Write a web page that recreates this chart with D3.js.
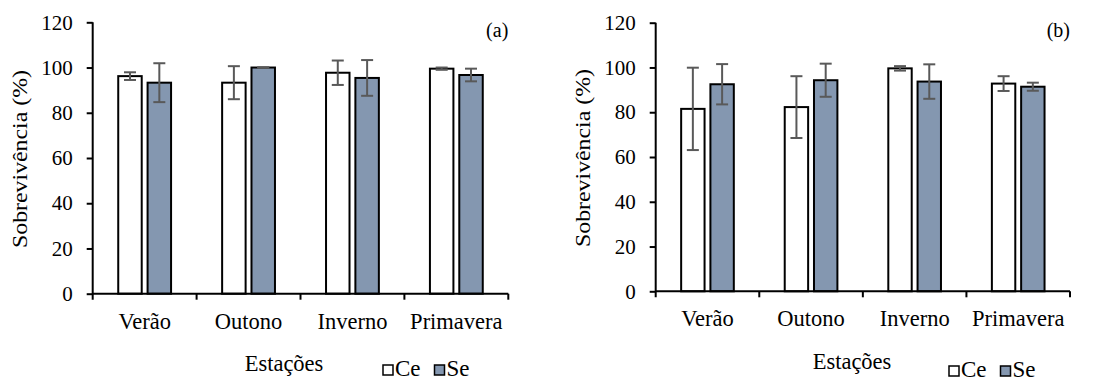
<html>
<head>
<meta charset="utf-8">
<script src="https://d3js.org/d3.v7.min.js"></script>
<style>
body { margin: 0; background: #fff; }
</style>
</head>
<body>
<script>
// data
var categories = ["Verão", "Outono", "Inverno", "Primavera"];
var seriesNames = ["Ce", "Se"];
var seriesColors = ["#ffffff", "#8497b0"];
var yTicks = [0, 20, 40, 60, 80, 100, 120];

// panel (a)
var ceA = [96.2, 93.3, 97.7, 99.5];
var ceAErr = [1.7, 7.3, 5.4, 0.5];
var seA = [93.3, 100, 95.4, 96.7];
var seAErr = [8.6, 0.1, 7.9, 2.8];

// panel (b)
var ceB = [81.5, 82.3, 99.6, 92.8];
var ceBErr = [18.4, 13.8, 1.0, 3.3];
var seB = [92.5, 94.3, 93.7, 91.4];
var seBErr = [9.0, 7.4, 7.7, 1.8];

var FONT = "Liberation Serif";

var svg = d3.select("body").append("svg")
    .attr("width", 1104)
    .attr("height", 381)
    .attr("font-family", FONT);

function panel(opts) {
  var g = svg.append("g");

  var x = d3.scaleBand()
      .domain(categories)
      .range([opts.left, opts.right])
      .padding(0);

  var x1 = d3.scaleBand()
      .domain(seriesNames)
      .range([0, x.bandwidth()])
      .paddingInner(0.2)
      .paddingOuter(0.87);

  var y = d3.scaleLinear()
      .domain([0, 120])
      .range([opts.bottom, opts.top]);

  // y axis
  var yAxis = g.append("g")
      .attr("transform", "translate(" + opts.left + ",0)")
      .call(d3.axisLeft(y).tickValues(yTicks).tickSize(6).tickPadding(14));
  yAxis.attr("font-family", FONT);
  yAxis.select(".domain").attr("stroke", "#000").attr("stroke-width", 2)
      .attr("d", "M0," + (opts.bottom + 6) + "V" + opts.top);
  yAxis.selectAll(".tick line").attr("stroke", "#000").attr("stroke-width", 2);
  yAxis.selectAll(".tick text").style("font-size", "21px")
      .style("font-family", FONT).attr("fill", "#000");

  // bars
  var flat = [];
  categories.forEach(function(c, i) {
    flat.push({cat: c, s: "Ce", v: opts.ce[i], e: opts.ceErr[i], col: seriesColors[0]});
    flat.push({cat: c, s: "Se", v: opts.se[i], e: opts.seErr[i], col: seriesColors[1]});
  });

  g.selectAll(".bar")
      .data(flat)
    .enter().append("rect")
      .attr("class", "bar")
      .attr("x", function(d) { return x(d.cat) + x1(d.s); })
      .attr("y", function(d) { return y(d.v); })
      .attr("width", x1.bandwidth())
      .attr("height", function(d) { return y(0) - y(d.v); })
      .attr("fill", function(d) { return d.col; })
      .attr("stroke", "#000")
      .attr("stroke-width", 2);

  // error bars
  var cx = function(d) { return x(d.cat) + x1(d.s) + x1.bandwidth() / 2; };
  var eb = g.selectAll(".err")
      .data(flat)
    .enter().append("g")
      .attr("class", "err")
      .attr("stroke", "#595959")
      .attr("stroke-width", 2);
  eb.append("line")
      .attr("x1", cx)
      .attr("x2", cx)
      .attr("y1", function(d) { return y(d.v + d.e); })
      .attr("y2", function(d) { return y(d.v - d.e); });
  [1, -1].forEach(function(sign) {
    eb.append("line")
        .attr("x1", function(d) { return cx(d) - 6; })
        .attr("x2", function(d) { return cx(d) + 6; })
        .attr("y1", function(d) { return y(d.v + sign * d.e); })
        .attr("y2", function(d) { return y(d.v + sign * d.e); });
  });

  // x axis
  var xAxis = g.append("g")
      .attr("transform", "translate(0," + opts.bottom + ")")
      .call(d3.axisBottom(x).tickSize(0).tickPadding(19));
  xAxis.attr("font-family", FONT);
  xAxis.select(".domain").attr("stroke", "#000").attr("stroke-width", 2)
      .attr("d", "M" + opts.left + ",0H" + opts.right);
  xAxis.selectAll(".tick text").style("font-size", "22.5px")
      .style("font-family", FONT).attr("fill", "#000");
  // ticks at the category boundaries
  var bounds = categories.slice(1).map(function(c) { return x(c); }).concat([x.range()[1]]);
  xAxis.selectAll(".btick")
      .data(bounds)
    .enter().append("line")
      .attr("x1", function(d) { return d; })
      .attr("x2", function(d) { return d; })
      .attr("y1", 0)
      .attr("y2", 6)
      .attr("stroke", "#000")
      .attr("stroke-width", 2);

  // axis titles
  g.append("text")
      .attr("transform", "translate(" + opts.ytx + "," + ((opts.top + opts.bottom) / 2 + 1) + ") rotate(-90)")
      .style("text-anchor", "middle")
      .style("font-family", FONT)
      .style("font-size", "22px")
      .attr("textLength", 178)
      .attr("lengthAdjust", "spacingAndGlyphs")
      .text("Sobrevivência (%)");

  g.append("text")
      .attr("x", opts.xtx)
      .attr("y", opts.xty)
      .style("text-anchor", "middle")
      .style("font-family", FONT)
      .style("font-size", "22.5px")
      .text("Estações");

  g.append("text")
      .attr("x", opts.right)
      .attr("y", 37)
      .style("text-anchor", "end")
      .style("font-family", FONT)
      .style("font-size", "20px")
      .text(opts.label);

  // legend
  var leg = g.append("g")
      .attr("transform", "translate(" + opts.legX + "," + opts.legY + ")");
  var items = leg.selectAll("g")
      .data(seriesNames)
    .enter().append("g")
      .attr("transform", function(d, i) { return "translate(" + (i * 51.5) + ",0)"; });
  items.append("rect")
      .attr("x", 0).attr("y", -11)
      .attr("width", 10).attr("height", 10)
      .attr("fill", function(d, i) { return seriesColors[i]; })
      .attr("stroke", "#000").attr("stroke-width", 1.5);
  items.append("text")
      .attr("x", 12).attr("y", 0)
      .style("font-family", FONT)
      .style("font-size", "23px")
      .text(function(d) { return d; });
}

panel({left: 92.7, right: 508.3, top: 22.3, bottom: 293.7,
       ce: ceA, ceErr: ceAErr, se: seA, seErr: seAErr,
       label: "(a)", ytx: 27, xtx: 284, xty: 371, legX: 383, legY: 376});

panel({left: 655.7, right: 1070, top: 22.7, bottom: 291.3,
       ce: ceB, ceErr: ceBErr, se: seB, seErr: seBErr,
       label: "(b)", ytx: 590, xtx: 852, xty: 369, legX: 949, legY: 377});
</script>
</body>
</html>
